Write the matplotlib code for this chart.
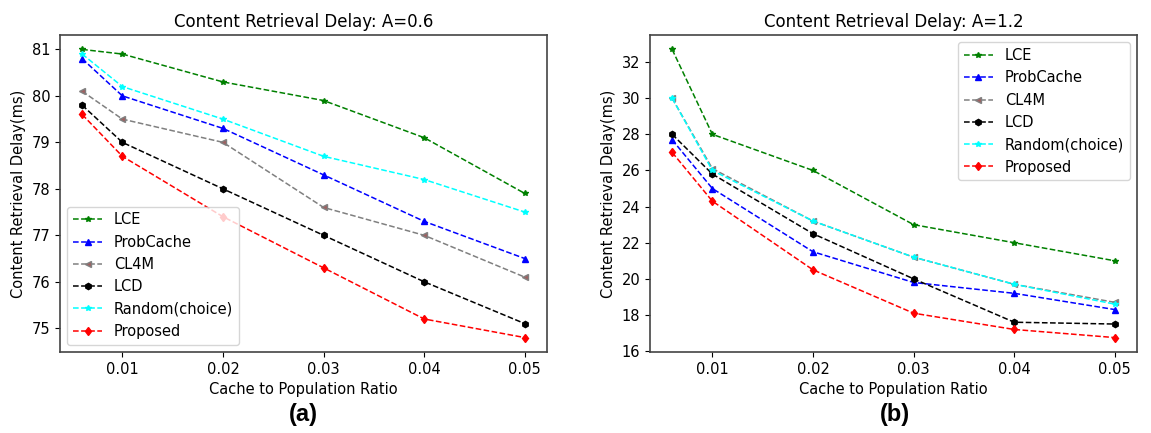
import matplotlib.pyplot as plt

ratio = [0.006, 0.01, 0.02, 0.03, 0.04, 0.05]
names = ['LCE', 'ProbCache', 'CL4M', 'LCD', 'Random(choice)', 'Proposed']

# A = 0.6
delay_a06 = {
    'LCE': [81.0, 80.9, 80.3, 79.9, 79.1, 77.9],
    'ProbCache': [80.8, 80.0, 79.3, 78.3, 77.3, 76.5],
    'CL4M': [80.1, 79.5, 79.0, 77.6, 77.0, 76.1],
    'LCD': [79.8, 79.0, 78.0, 77.0, 76.0, 75.1],
    'Random(choice)': [80.9, 80.2, 79.5, 78.7, 78.2, 77.5],
    'Proposed': [79.6, 78.7, 77.4, 76.3, 75.2, 74.8],
}

# A = 1.2
delay_a12 = {
    'LCE': [32.7, 28.0, 26.0, 23.0, 22.0, 21.0],
    'ProbCache': [27.7, 25.0, 21.5, 19.8, 19.2, 18.3],
    'CL4M': [30.0, 26.1, 23.2, 21.2, 19.7, 18.7],
    'LCD': [28.0, 25.8, 22.5, 20.0, 17.6, 17.5],
    'Random(choice)': [30.0, 26.0, 23.2, 21.2, 19.7, 18.6],
    'Proposed': [27.0, 24.3, 20.5, 18.1, 17.2, 16.75],
}

styles = {
    'LCE': dict(color='green', marker='*', markersize=4),
    'ProbCache': dict(color='blue', marker='^', markersize=4.5),
    'CL4M': dict(color='grey', marker='<', markerfacecolor='#a06060', markersize=4.5),
    'LCD': dict(color='black', marker='h', markersize=4.5),
    'Random(choice)': dict(color='cyan', marker='*', markersize=4),
    'Proposed': dict(color='red', marker='d', markersize=4.5),
}

plt.rcParams['font.size'] = 10.5
plt.rcParams['axes.edgecolor'] = '#444444'
plt.rcParams['axes.linewidth'] = 1.2

fig = plt.figure(figsize=(11.51, 4.33), dpi=100)
ax1 = fig.add_axes([60 / 1151, 1 - 352 / 433, 487 / 1151, 317 / 433])
ax2 = fig.add_axes([650 / 1151, 1 - 352 / 433, 487 / 1151, 317 / 433])

for ax, data, title, loc in [(ax1, delay_a06, 'Content Retrieval Delay: A=0.6', 'lower left'),
                             (ax2, delay_a12, 'Content Retrieval Delay: A=1.2', 'upper right')]:
    for n in names:
        ax.plot(ratio, data[n], linestyle='--', linewidth=1.1, label=n, **styles[n])
    ax.set_title(title, fontsize=12)
    ax.set_xlabel('Cache to Population Ratio')
    ax.set_ylabel('Content Retrieval Delay(ms)')
    ax.set_xticks([0.01, 0.02, 0.03, 0.04, 0.05])
    ax.set_xticklabels(['0.01', '0.02', '0.03', '0.04', '0.05'])
    ax.legend(loc=loc, fontsize=10.5)

ax2.set_yticks([16, 18, 20, 22, 24, 26, 28, 30, 32])

fig.text(303 / 1151, 1 - 415 / 433, '(a)', ha='center', va='center',
         fontsize=17, fontweight='bold', family='Liberation Sans')
fig.text(895 / 1151, 1 - 415 / 433, '(b)', ha='center', va='center',
         fontsize=17, fontweight='bold', family='Liberation Sans')

fig.savefig('out.png', dpi=100)
